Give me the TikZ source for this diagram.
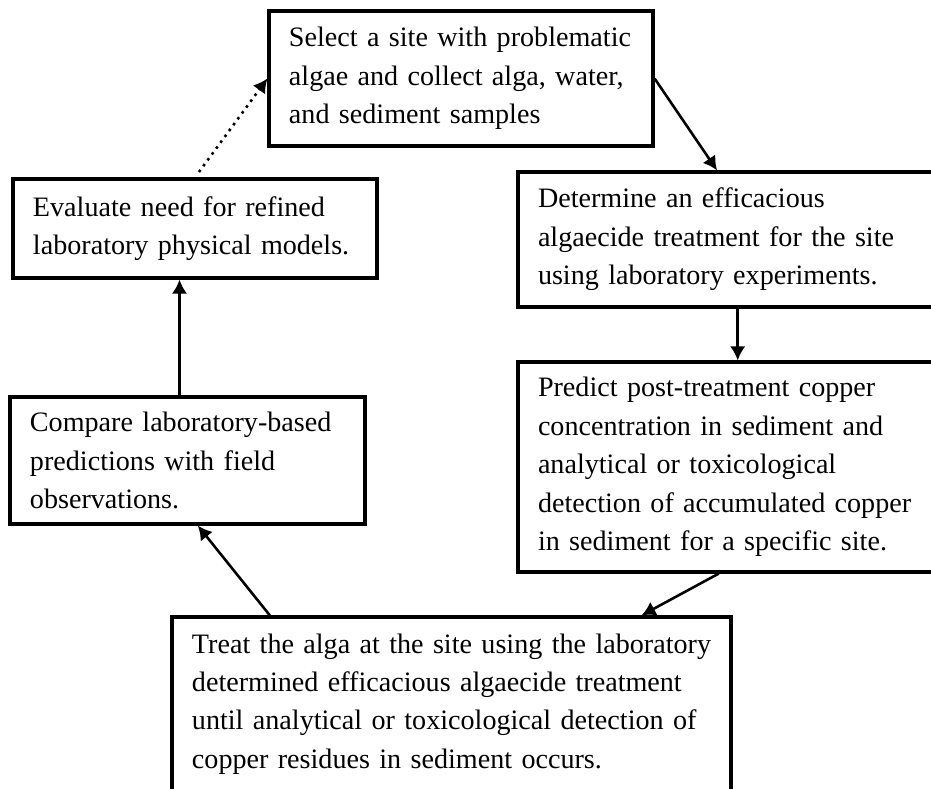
\documentclass[tikz,border=0pt]{standalone}
\usepackage{fontspec}
\setmainfont{Liberation Serif}
\usetikzlibrary{arrows.meta}
\hyphenpenalty=10000
\tikzset{
	stage/.style={draw, line width=1.35pt, align=left,
		inner xsep=0.3cm, inner ysep=0pt,
		font=\fontsize{12}{16.4}\selectfont},
	>={Latex[length=2.1mm, width=2.3mm]}
}

\begin{document}
\begin{tikzpicture}[x=0.015cm, y=-0.015cm, line width=1.1pt]
		\useasboundingbox (0,0) rectangle (931,788);
		
		\node[stage, text width=5.16cm, minimum height=2.025cm] (select) at (461,78.5)
			{Select a site with problematic\\algae and collect alga, water,\\and sediment samples};
		
		\node[stage, text width=5.7cm, minimum height=2.025cm] (determine) at (728,239.5)
			{Determine an efficacious\\algaecide treatment for the site\\using laboratory experiments.};
		\node[stage, text width=5.7cm, minimum height=3.15cm] (predict) at (728,467)
			{Predict post-treatment copper\\concentration in sediment and\\analytical or toxicological\\detection of accumulated copper\\in sediment for a specific site.};
		
		\node[stage, text width=7.785cm, minimum height=2.61cm] (treat) at (451.5,704)
			{Treat the alga at the site using the laboratory\\determined efficacious algaecide treatment\\until analytical or toxicological detection of\\copper residues in sediment occurs.};
		
		\node[stage, text width=4.725cm, minimum height=1.905cm] (compare) at (187.5,460.5)
			{Compare laboratory-based\\predictions with field\\observations.};
		\node[stage, text width=4.86cm, minimum height=1.485cm] (evaluate) at (195,228.5)
			{Evaluate need for refined\\laboratory physical models.};
		
		%========================================================================
		% Arrows
		\draw[->] (select.east) to (determine.99);
		\draw[->] (determine.-82) to (determine.-82 |- predict.north);
		\draw[->] (predict.-95) to (treat.25);
		\draw[->] (treat.154) to (compare.-81);
		\draw[->] (compare.97) to (compare.97 |- evaluate.south);
		\draw[->, dotted, shorten <=0.1cm] (evaluate.north) to (select.west);
	\end{tikzpicture}
\end{document}
